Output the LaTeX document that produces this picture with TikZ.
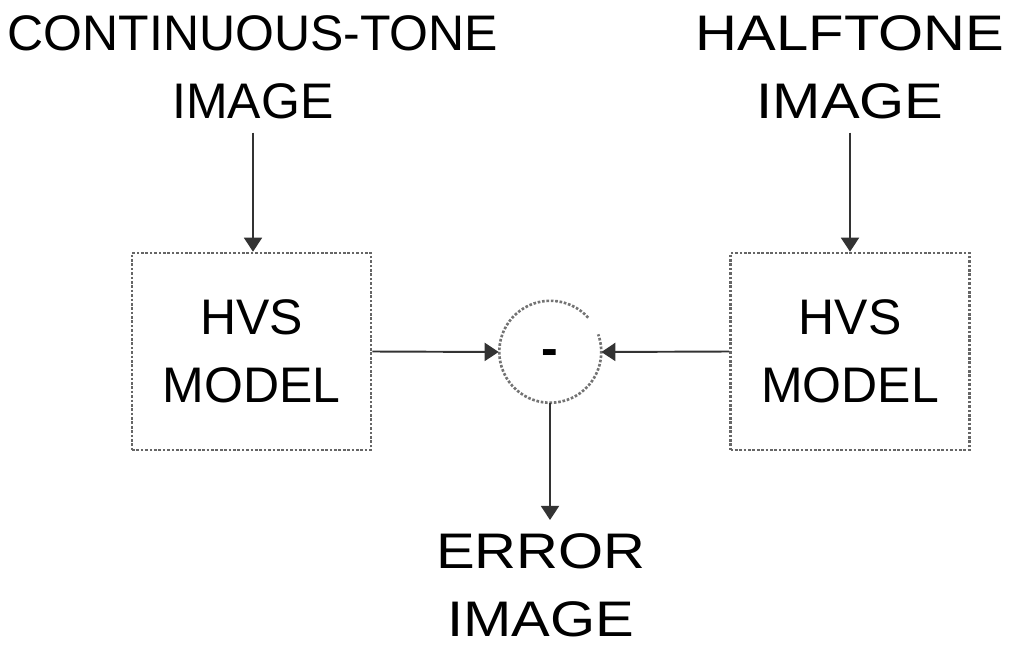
\documentclass[tikz,border=0pt]{standalone}
\usepackage{fontspec}
\setmainfont{Liberation Sans}
\newfontfamily\widefont[FakeStretch=1.16]{Liberation Sans}
\usepackage{tikz}
\usetikzlibrary{arrows.meta, positioning, calc}
\tikzset{
  %% Two-line caps label
  lbl/.style={
    align=center, text=black,
    font=\fontsize{28.45}{38.7}\selectfont,
    inner sep=#1
  },
  lbl/.default=0.26cm,
  %% Stretched label
  wlbl/.style={lbl, font=\widefont\fontsize{28.45}{38.7}\selectfont},
  %% Dotted model block
  hvsbox/.style={
    rectangle, draw=black!60, densely dotted,
    line width=1.5pt, minimum width=4.78cm, minimum height=3.94cm,
    align=center, text=black,
    font=\fontsize{28.45}{38.7}\selectfont, inner sep=0pt
  },
  %% Broken ring of the difference
  ring/.style={draw=black!55, densely dotted, line width=1.5pt},
  %% Arrow
  arr/.style={-{Triangle[length=0.28cm,width=0.36cm]},
              draw=black!80, line width=1.1pt},
}

\begin{document}
\begin{tikzpicture}[x=0.02cm, y=-0.02cm]

  \useasboundingbox (0,0) rectangle (1013,645);

  %% Input labels
  \node[lbl]  (cont) at (253,67.5) {CONTINUOUS-TONE\\IMAGE};
  \node[wlbl] (half) at (850,67.5) {HALFTONE\\IMAGE};

  %% HVS blocks
  \node[hvsbox] (hvsl) at (251.5,351.5) {HVS\\MODEL};
  \node[hvsbox] (hvsr) at (850,351.5)   {HVS\\MODEL};

  %% Difference node
  \node[circle, minimum size=2.04cm, inner sep=0pt] (sum) at (550,352) {};
  \draw[ring] (sum.42) arc[start angle=42, end angle=380, radius=1.02cm];
  \node[lbl=0pt, font=\bfseries\fontsize{28.45}{38.7}\selectfont,
        yshift=-0.11cm] (minus) at (sum.center) {-};

  %% Output label
  \node[wlbl] (err) at (541,585) {ERROR\\IMAGE};

  %% Connectors
  \draw[arr] (cont.south) -- (cont.south |- hvsl.north);
  \draw[arr] (half.south) -- (half.south |- hvsr.north);
  \draw[arr] (hvsl.east) -- (sum.west);
  \draw[arr] (hvsr.west) -- (sum.east);
  \draw[arr] (sum.south) -- (sum.south |- err.north);

\end{tikzpicture}
\end{document}
